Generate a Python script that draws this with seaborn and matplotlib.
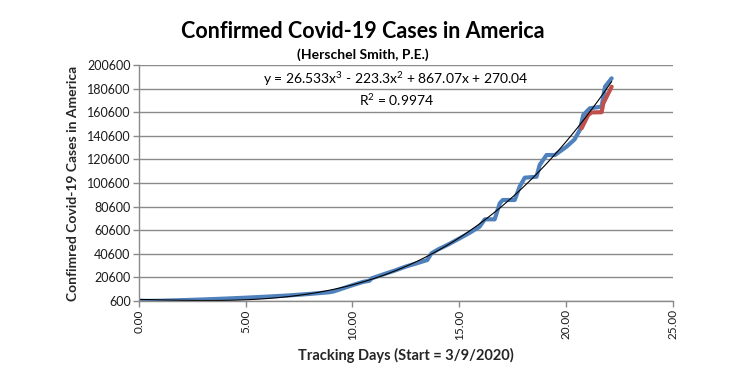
import matplotlib
matplotlib.use("Agg")
import matplotlib.pyplot as plt
import seaborn as sns
import pandas as pd
import numpy as np

# Data
blue_days = [0.0, 1.0, 2.0, 3.0, 4.0, 5.0, 6.0, 7.0, 8.0, 8.9, 9.1, 9.5, 10.0, 10.5,
             10.8, 10.9, 11.5, 12.0, 12.5, 13.0, 13.5, 13.7, 14.0, 14.5, 15.0, 15.5,
             15.95, 16.2, 16.66, 16.9, 17.04, 17.6, 17.83, 18.07, 18.62, 18.77, 19.09,
             19.48, 20.03, 20.4, 20.65, 20.81, 21.12, 21.67, 21.83, 22.14]
blue_cases = [600, 800, 1300, 1900, 2600, 3400, 4300, 5300, 6600, 8000, 8600, 11000,
              14000, 16800, 17800, 19800, 23500, 26500, 29800, 32500, 35300, 41000,
              44200, 48600, 53500, 58500, 63500, 69800, 69800, 83400, 86200, 86200,
              97500, 105100, 105900, 115900, 124300, 124300, 131400, 137500, 145500,
              158200, 163900, 165300, 182200, 189300]
red_days = [20.73, 21.04, 21.2, 21.67, 21.75, 22.14]
red_cases = [146900, 158200, 160400, 160600, 168100, 182200]

y_ticks = [600 + 20000 * i for i in range(11)]
x_ticks = [0, 5, 10, 15, 20, 25]

title = "Confirmed Covid-19 Cases in America"
subtitle = "(Herschel Smith, P.E.)"
equation = "y = 26.533x$^3$ - 223.3x$^2$ + 867.07x + 270.04"
r2_text = "R$^2$ = 0.9974"
x_label = "Tracking Days (Start = 3/9/2020)"
y_label = "Confimred Covid-19 Cases in America"

blue_df = pd.DataFrame({"day": blue_days, "cases": blue_cases})
red_df = pd.DataFrame({"day": red_days, "cases": red_cases})

sns.set_theme(style="white")
plt.rcParams["font.family"] = ["Lato", "DejaVu Sans"]
plt.rcParams["mathtext.fontset"] = "custom"
plt.rcParams["mathtext.rm"] = "Lato"
plt.rcParams["mathtext.it"] = "Lato"

fig = plt.figure(figsize=(7.3, 3.78), dpi=100)
ax = fig.add_axes([139 / 730, 1 - 301 / 378, (672.7 - 139) / 730, (301 - 65) / 378])

sns.lineplot(data=blue_df, x="day", y="cases", ax=ax, color="#4F81BD", lw=3.0,
             estimator=None, sort=False)
sns.lineplot(data=red_df, x="day", y="cases", ax=ax, color="#C0504D", lw=3.0,
             estimator=None, sort=False)
sns.regplot(data=blue_df, x="day", y="cases", order=3, ci=None, scatter=False, ax=ax,
            line_kws=dict(color="black", lw=0.8))

ax.set_xlim(0, 25)
ax.set_ylim(600, 200600)
ax.set_xticks(x_ticks)
ax.set_xticklabels([f"{t:.2f}" for t in x_ticks], rotation=90, fontsize=8.5)
ax.set_yticks(y_ticks)
ax.set_yticklabels([str(t) for t in y_ticks], fontsize=9)
ax.yaxis.grid(True, color="#8a8a8a", lw=1.0)
ax.xaxis.grid(False)
for s in ["top", "right"]:
    ax.spines[s].set_visible(False)
for s in ["left", "bottom"]:
    ax.spines[s].set_color("#8a8a8a")
    ax.spines[s].set_linewidth(1.0)
ax.tick_params(axis="both", which="major", direction="out", length=4, width=1,
               color="#8a8a8a", labelcolor="#1a1a1a", left=True, bottom=True, pad=2)
ax.set_xlabel(x_label, fontsize=10.5, fontweight="bold", labelpad=6)
ax.set_ylabel(y_label, fontsize=10, fontweight="bold", labelpad=6)

fig.text(363 / 730, 1 - 32 / 378, title, ha="center", va="center", fontsize=15.5,
         fontweight="bold", color="black")
fig.text(363 / 730, 1 - 55 / 378, subtitle, ha="center", va="center", fontsize=10,
         fontweight="bold", color="black")
fig.text(396 / 730, 1 - 79 / 378, equation, ha="center", va="center", fontsize=10,
         color="black")
fig.text(397 / 730, 1 - 100 / 378, r2_text, ha="center", va="center", fontsize=10,
         color="black")

fig.savefig("out.png", dpi=100, facecolor="white")
